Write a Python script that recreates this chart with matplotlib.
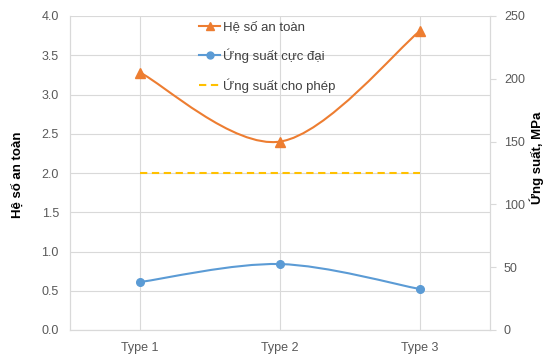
import matplotlib
matplotlib.use("Agg")
import matplotlib.pyplot as plt
from matplotlib.path import Path
from matplotlib.patches import PathPatch
from matplotlib.lines import Line2D

categories = ["Type 1", "Type 2", "Type 3"]
safety_factor = [3.28, 2.40, 3.81]
max_stress = [38.2, 52.5, 32.6]
allow_stress = [125, 125, 125]

labels = ["Hệ số an toàn", "Ứng suất cực đại", "Ứng suất cho phép"]
orange, blue, yellow = "#ED7D31", "#5B9BD5", "#FFC000"
grid_c = "#D9D9D9"
text_c = "#595959"

plt.rcParams['font.family'] = ['Liberation Sans', 'DejaVu Sans']


def smooth_path(x, y):
    # excel-like smoothed line: cubic bezier through the data points
    px = [x[0]] + list(x) + [x[-1]]
    py = [y[0]] + list(y) + [y[-1]]
    verts = [(x[0], y[0])]
    codes = [Path.MOVETO]
    for i in range(1, len(px) - 2):
        c1 = (px[i] + (px[i + 1] - px[i - 1]) / 6, py[i] + (py[i + 1] - py[i - 1]) / 6)
        c2 = (px[i + 1] - (px[i + 2] - px[i]) / 6, py[i + 1] - (py[i + 2] - py[i]) / 6)
        verts += [c1, c2, (px[i + 1], py[i + 1])]
        codes += [Path.CURVE4] * 3
    return Path(verts, codes)


fig = plt.figure(figsize=(5.45, 3.58), dpi=100)
ax = fig.add_axes([70 / 545, 28 / 358, 420 / 545, 314 / 358])
ax2 = ax.twinx()

x = list(range(len(categories)))

# safety factor on left axis
ax.add_patch(PathPatch(smooth_path(x, safety_factor), fill=False,
                       edgecolor=orange, lw=1.5, zorder=3))
ax.plot(x, safety_factor, ls="none", marker="^", ms=6.5, color=orange, zorder=4)

# stresses on right axis
ax2.add_patch(PathPatch(smooth_path(x, max_stress), fill=False,
                        edgecolor=blue, lw=1.5, zorder=3))
ax2.plot(x, max_stress, ls="none", marker="o", ms=5.5, color=blue, zorder=4)
ax2.plot(x, allow_stress, color=yellow, lw=1.5, dashes=(3.5, 2.2), zorder=3)

ax.set_xlim(-0.5, len(categories) - 0.5)
ax.set_ylim(0, 4.0)
ax.set_yticks([i * 0.5 for i in range(9)])
ax.set_yticklabels([f"{i * 0.5:.1f}" for i in range(9)])
ax2.set_ylim(0, 250)
ax2.set_yticks(range(0, 251, 50))
ax.set_xticks(x)
ax.set_xticklabels(categories)

ax.grid(True, color=grid_c, lw=0.8)
ax.set_axisbelow(True)
for a in (ax, ax2):
    a.spines["top"].set_visible(False)
    for s in ("left", "right", "bottom"):
        a.spines[s].set_color(grid_c)
        a.spines[s].set_linewidth(0.8)

ax.tick_params(axis="y", length=0, pad=8, labelsize=9, labelcolor=text_c)
ax.tick_params(axis="x", length=0, pad=9, labelsize=9, labelcolor=text_c)
ax2.tick_params(axis="y", length=4, width=0.8, color=grid_c, pad=6,
                labelsize=9, labelcolor=text_c)

fig.text(18 / 545, 1 - 175 / 358, labels[0], rotation=90, fontsize=9.5,
         fontweight="bold", ha="center", va="center")
fig.text(537 / 545, 1 - 158 / 358, "Ứng suất, MPa", rotation=90, fontsize=9.5,
         fontweight="bold", ha="center", va="center")

handles = [
    Line2D([], [], color=orange, lw=1.5, marker="^", ms=6),
    Line2D([], [], color=blue, lw=1.5, marker="o", ms=5),
    Line2D([], [], color=yellow, lw=1.5, dashes=(3.5, 2.2)),
]
ax2.legend(handles, labels, loc="upper left", bbox_to_anchor=(199 / 545, 1 - 21 / 358),
           bbox_transform=fig.transFigure, frameon=False, borderpad=0,
           borderaxespad=0, handlelength=1.6, handletextpad=0.2,
           labelspacing=1.15, fontsize=9.5, labelcolor="#404040")

fig.savefig("out.png", dpi=100)
